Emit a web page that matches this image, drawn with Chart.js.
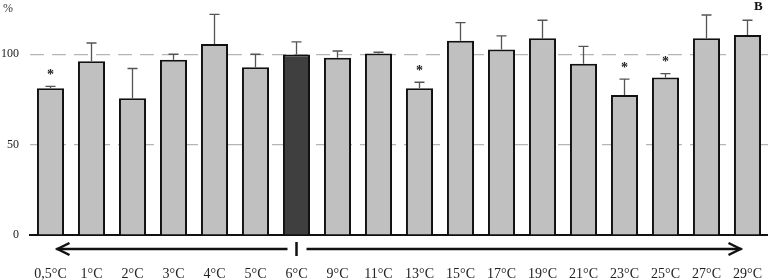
<!DOCTYPE html>
<html>
<head>
<meta charset="utf-8">
<script src="https://cdn.jsdelivr.net/npm/chart.js@4/dist/chart.umd.min.js"></script>
<style>
html,body{margin:0;padding:0;background:#fff;}
#wrap{width:768px;height:280px;position:relative;}
</style>
</head>
<body>
<div id="wrap"><canvas id="c" width="768" height="280"></canvas></div>
<script>
const categories = ["0,5°C","1°C","2°C","3°C","4°C","5°C","6°C","9°C","11°C","13°C","15°C","17°C","19°C","21°C","23°C","25°C","27°C","29°C"];
const values     = [81.2, 96.1, 75.7, 96.9, 105.7, 92.8, 99.8, 98.0, 100.4, 81.2, 107.5, 102.6, 108.8, 94.8, 77.5, 87.1, 108.8, 110.7];
const errorTops  = [82.2, 106.2, 92.1, 100.0, 122.0, 100.0, 106.8, 101.8, 101.1, 84.5, 117.5, 110.1, 118.8, 104.4, 86.2, 89.3, 121.7, 118.8];
const significant= [true,false,false,false,false,false,false,false,false,true,false,false,false,false,true,true,false,false];
const controlIndex = 6;
const yTicks = [0, 50, 100];

const SERIF = '"Liberation Serif", "Times New Roman", serif';

function zeroPad(s) { s.paddingLeft = 0; s.paddingRight = 0; s.paddingTop = 0; s.paddingBottom = 0; }

const overlay = {
  id: 'overlay',
  afterDatasetsDraw(chart) {
    const ctx = chart.ctx;
    const x = chart.scales.x, y = chart.scales.y;
    ctx.save();
    // error bars
    ctx.strokeStyle = '#555';
    ctx.lineWidth = 1.3;
    values.forEach((v, i) => {
      const cx = x.getPixelForValue(i);
      const y0 = y.getPixelForValue(v);
      const y1 = y.getPixelForValue(errorTops[i]);
      ctx.beginPath();
      ctx.moveTo(cx, y0); ctx.lineTo(cx, y1);
      ctx.moveTo(cx - 5, y1); ctx.lineTo(cx + 5, y1);
      ctx.stroke();
    });
    // asterisks
    ctx.fillStyle = '#222';
    ctx.font = 'bold 14px ' + SERIF;
    ctx.textAlign = 'center';
    ctx.textBaseline = 'middle';
    values.forEach((v, i) => {
      if (!significant[i]) return;
      const cx = x.getPixelForValue(i);
      const yt = y.getPixelForValue(errorTops[i]);
      ctx.fillText('*', cx, yt - 11);
    });
    // arrows below axis
    const ay = y.bottom + 14;
    const c0 = x.getPixelForValue(0), cc = x.getPixelForValue(controlIndex), cN = x.getPixelForValue(categories.length - 1);
    ctx.strokeStyle = '#111';
    ctx.lineWidth = 2.5;
    ctx.beginPath();
    ctx.moveTo(c0 + 6, ay); ctx.lineTo(cc - 9, ay);
    ctx.moveTo(cc + 10, ay); ctx.lineTo(cN - 6, ay);
    ctx.stroke();
    ctx.beginPath();
    ctx.moveTo(c0 + 19, ay - 6); ctx.lineTo(c0 + 7, ay); ctx.lineTo(c0 + 19, ay + 6);
    ctx.moveTo(cN - 19, ay - 6); ctx.lineTo(cN - 7, ay); ctx.lineTo(cN - 19, ay + 6);
    ctx.stroke();
    ctx.beginPath();
    ctx.moveTo(cc, ay - 7); ctx.lineTo(cc, ay + 7);
    ctx.stroke();
    // labels
    ctx.fillStyle = '#333';
    ctx.font = '12px ' + SERIF;
    ctx.textAlign = 'left';
    ctx.textBaseline = 'middle';
    ctx.fillText('%', 3, 9);
    ctx.fillStyle = '#111';
    ctx.font = 'bold 13px ' + SERIF;
    ctx.fillText('B', 754, 7);
    ctx.restore();
  }
};

new Chart(document.getElementById('c'), {
  type: 'bar',
  data: {
    labels: categories,
    datasets: [{
      data: values,
      backgroundColor: values.map((v, i) => i === controlIndex ? '#3f3f3f' : '#c0c0c0'),
      borderColor: '#111',
      borderWidth: 2,
      borderSkipped: 'bottom',
      barPercentage: 0.66,
      categoryPercentage: 1.0
    }]
  },
  options: {
    responsive: false,
    animation: false,
    devicePixelRatio: 1,
    layout: { padding: 0 },
    plugins: { legend: { display: false }, tooltip: { enabled: false } },
    scales: {
      x: {
        grid: { display: false, drawTicks: false },
        border: { display: true, color: '#111', width: 2 },
        ticks: { color: '#222', font: { family: SERIF, size: 14 }, padding: 31, maxRotation: 0, autoSkip: false },
        afterFit(s) { s.height = 45; zeroPad(s); }
      },
      y: {
        min: 0, max: 130,
        afterBuildTicks(s) { s.ticks = yTicks.map(v => ({ value: v })); },
        grid: {
          drawTicks: false,
          color: ctx => (ctx.tick && ctx.tick.value === 0) ? 'rgba(0,0,0,0)' : '#b5b5b5',
          lineWidth: 1.2
        },
        border: { display: false, dash: [14, 8] },
        ticks: { color: '#222', font: { family: SERIF, size: 12 }, padding: 11 },
        afterFit(s) { s.width = 30; zeroPad(s); }
      }
    }
  },
  plugins: [overlay]
});
</script>
</body>
</html>
